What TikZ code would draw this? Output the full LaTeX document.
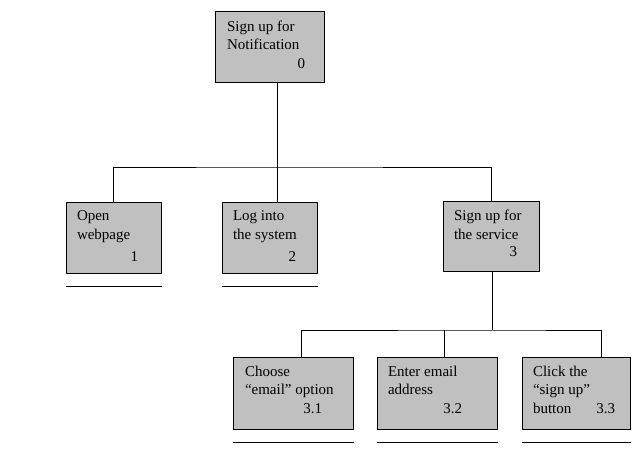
\documentclass[tikz,border=0pt]{standalone}
\usepackage{fontspec}
\setmainfont{Liberation Serif}
\usetikzlibrary{positioning}
\definecolor{boxgray}{RGB}{192,192,192}

\begin{document}
\begin{tikzpicture}[x=1pt,y=-1pt,line width=1pt,
  box/.style={draw,fill=boxgray,minimum height=71pt,inner sep=0pt},
  txt/.style={align=left,inner sep=0pt,font=\fontsize{15}{18.5}\selectfont},
  num/.style={inner sep=0pt,font=\fontsize{15}{18.5}\selectfont}]
  \useasboundingbox (0,0) rectangle (638,460);

  \node[box,minimum width=109pt] (b0) at (269.5,47) {};
  \node[box,minimum width=95pt] (b1) at (113.5,237.5) {};
  \node[box,minimum width=95pt] (b2) at (269.5,237.5) {};
  \node[box,minimum width=96pt,minimum height=70pt] (b3) at (491,236) {};
  \node[box,minimum width=120pt,minimum height=72pt] (b31) at (293,393) {};
  \node[box,minimum width=120pt,minimum height=72pt] (b32) at (437,393) {};
  \node[box,minimum width=108pt,minimum height=72pt] (b33) at (576,393) {};

  \node[txt,below right=9pt and 12pt of b0.north west] (t0) {Sign up for\\Notification};
  \node[txt,below right=9pt and 11pt of b1.north west] (t1) {Open\\webpage};
  \node[txt,below right=9pt and 11pt of b2.north west] (t2) {Log into\\the system};
  \node[txt,below right=9pt and 11pt of b3.north west] (t3) {Sign up for\\the service};
  \node[txt,below right=9pt and 12pt of b31.north west] (t31) {Choose\\“email” option};
  \node[txt,below right=9pt and 11pt of b32.north west] (t32) {Enter email\\address};
  \node[txt,below right=9pt and 11pt of b33.north west] (t33) {Click the\\“sign up”\\button};

  \node[num,above left=14pt and 19pt of b0.south east] (n0) {0};
  \node[num,above left=12pt and 23pt of b1.south east] (n1) {1};
  \node[num,above left=12pt and 21pt of b2.south east] (n2) {2};
  \node[num,above left=14pt and 22pt of b3.south east] (n3) {3};
  \node[num,above left=15pt and 31pt of b31.south east] (n31) {3.1};
  \node[num,above left=15pt and 35pt of b32.south east] (n32) {3.2};
  \node[num,above left=15pt and 15pt of b33.south east] (n33) {3.3};

  \coordinate (top) at (277,167);
  \coordinate (mid) at (492,330);
  \coordinate (c31) at ([xshift=8pt]b31.north);
  \coordinate (c32) at ([xshift=7pt]b32.north);
  \coordinate (c33) at ([xshift=25pt]b33.north);
  \draw (b0.south -| top) -- (b2.north -| top);
  \draw (b1.north) |- (top) -| (b3.north);
  \draw (b3.south -| mid) -- (mid);
  \draw (c31) |- (mid) -| (c33);
  \draw (c32 |- mid) -- (c32);

  \foreach \b in {b1,b2,b31,b32,b33}
    \draw ([yshift=-13pt]\b.south west) -- ([yshift=-13pt]\b.south east);
\end{tikzpicture}
\end{document}
